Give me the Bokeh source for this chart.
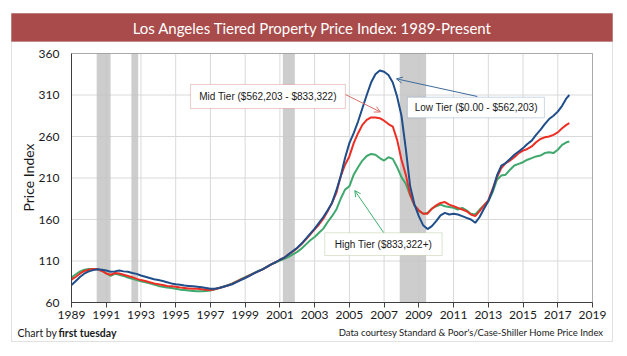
from math import pi
from bokeh.plotting import figure
from bokeh.models import Range1d, FixedTicker, BoxAnnotation, Label, Arrow, OpenHead, LinearAxis
from bokeh.embed import file_html
from bokeh.resources import INLINE

# quarterly dates (index readings), last reading Aug 2017
dates = [1989 + q / 4 for q in range(115)] + [2017 + 8 / 12]

low_tier = [
    81, 86, 91, 95,
    97.5, 99, 100, 99.5,
    98.5, 97, 97.5, 98.5,
    97.5, 97, 95.5, 94.5,
    92.5, 91, 89.5, 88,
    87, 86, 84.5, 83,
    82, 81.5, 80.5, 80,
    79.5, 79, 78.5, 77.5,
    76.5, 76.5, 77.5, 79,
    80.5, 82, 84.5, 87,
    89.5, 92, 95, 97.5,
    100, 103, 106, 108.5,
    111.5, 114, 118, 122,
    126, 131, 137, 143,
    149, 156, 163, 171,
    180, 195, 212, 234,
    252, 264, 278, 294,
    310, 325, 335, 339.5,
    338, 334, 325, 308,
    285, 245, 200, 178,
    164, 153, 148.5, 152,
    158, 165, 168, 166,
    167, 166, 164, 162,
    160, 156, 163, 173,
    182, 195, 213, 225,
    228, 233, 238, 242,
    246, 251, 255, 262,
    268, 275, 281, 285,
    290, 297, 306, 310,
]

mid_tier = [
    87.5, 91, 95, 98,
    99.5, 100.5, 100, 98,
    95, 93.5, 95.5, 95,
    93.5, 92, 90.5, 88.5,
    87, 86, 84.5, 83,
    82, 81, 80, 79.5,
    79, 78, 77.5, 77,
    76.5, 76.5, 76, 75.5,
    75, 76, 77.5, 79,
    80.5, 82.5, 85, 87.5,
    90, 92.5, 95, 97.5,
    100, 103, 106, 108.5,
    111.5, 114, 118, 121.5,
    125.5, 130.5, 136, 142,
    148, 154, 161, 170,
    180, 192, 212, 226,
    236, 252, 264, 274,
    280, 283, 283, 282,
    279, 275, 272, 256,
    232, 214, 190, 177,
    171, 167, 167, 173,
    177, 180, 181, 178,
    176, 174, 172, 170,
    166, 164, 170, 177,
    183, 197, 211, 222,
    228, 231, 235, 240,
    243, 245, 248, 253,
    257, 259, 260, 262,
    265, 270, 274, 276,
]

high_tier = [
    90, 94, 97.5, 99.5,
    100.5, 100.5, 100, 98.5,
    95, 92, 94.5, 93.5,
    92, 90, 88.5, 87,
    85.5, 84.5, 83, 81.5,
    80, 79, 78, 77.5,
    76.5, 75.5, 75, 74.5,
    74, 73.5, 73.5, 74,
    74.5, 76, 77.5, 79,
    81, 83, 85.5, 88,
    90.5, 93, 95.5, 98,
    100, 103, 106, 108,
    110.5, 112.5, 115, 118,
    121, 125, 130, 135,
    139, 144, 149, 157,
    164, 172, 185, 196,
    200, 214, 223, 231,
    236.5, 239, 238, 234,
    231, 235, 233, 223,
    211, 203, 189, 177,
    170, 167, 168, 173,
    176, 178, 176, 175,
    174, 172, 174, 171,
    167, 166, 172, 177,
    182, 193, 208, 213,
    214, 220, 225, 227,
    229, 232, 234, 236,
    237, 240, 241, 240,
    244, 250, 253, 254,
]

rec_start = [1990.45, 1992.45, 2001.17, 2007.9]
rec_end = [1991.25, 1992.84, 2001.86, 2009.42]

x_ticks = list(range(1989, 2020, 2))
y_ticks = [60, 110, 160, 210, 260, 310, 360]

X0, X1 = 1989, 2019
Y0, Y1 = 60, 360

TITLE = "Los Angeles Tiered Property Price Index: 1989-Present"
FONT = "Lato"

W, H = 627, 356
# plot area in canvas pixels
PL, PR, PT, PB = 71, 592, 53, 302
kx = (PR - PL) / (X1 - X0)
ky = (PB - PT) / (Y1 - Y0)
x_range = Range1d(X0 - PL / kx, X1 + (W - PR) / kx)
y_range = Range1d(Y0 - (H - PB) / ky, Y1 + PT / ky)

p = figure(width=W, height=H, x_range=x_range, y_range=y_range, title=None,
           output_backend="svg", toolbar_location=None, min_border=0,
           x_axis_location=None, y_axis_location=None)
p.background_fill_color = "white"
p.border_fill_color = "white"
p.outline_line_color = None
p.grid.visible = False

# gridlines from the tick arrays
p.segment(x0=x_ticks, x1=x_ticks, y0=Y0, y1=Y1, line_color="#D9D9D9", line_width=1)
p.segment(x0=X0, x1=X1, y0=y_ticks, y1=y_ticks, line_color="#D9D9D9", line_width=1)

# recession bands
p.quad(left=rec_start, right=rec_end, bottom=Y0, top=Y1,
       fill_color="#C4C4C4", fill_alpha=0.85, line_color=None)

p.line(dates, high_tier, line_color="#3FA86C", line_width=2)
p.line(dates, mid_tier, line_color="#EE2E24", line_width=2)
p.line(dates, low_tier, line_color="#1F4E8A", line_width=2)

# plot-area outline
p.add_layout(BoxAnnotation(left=X0, right=X1, bottom=Y0, top=Y1, fill_color=None,
                           line_color="#404040", line_width=1))

xaxis = LinearAxis(ticker=FixedTicker(ticks=x_ticks), fixed_location=Y0, bounds=(X0, X1))
yaxis = LinearAxis(ticker=FixedTicker(ticks=y_ticks), fixed_location=X0, bounds=(Y0, Y1))
for ax in (xaxis, yaxis):
    ax.axis_line_color = "#404040"
    ax.major_tick_line_color = "#404040"
    ax.minor_tick_line_color = None
    ax.major_label_text_font = FONT
    ax.major_label_text_font_size = "12px"
    ax.major_label_text_color = "#1a1a1a"
    ax.major_tick_in = 0
xaxis.major_tick_out = 5
xaxis.major_label_standoff = 3
yaxis.major_tick_out = 0
yaxis.major_label_standoff = 12
p.add_layout(xaxis, "below")
p.add_layout(yaxis, "left")

# outer frame and title band (screen pixels; frame == canvas)
def sy(canvas_y):
    return H - canvas_y

p.add_layout(BoxAnnotation(left=11, right=612, top=sy(13), bottom=sy(341),
                           left_units="screen", right_units="screen",
                           top_units="screen", bottom_units="screen",
                           fill_color=None, line_color="#9A9A9A", line_width=1))
p.add_layout(BoxAnnotation(left=11, right=612, top=sy(13), bottom=sy(41),
                           left_units="screen", right_units="screen",
                           top_units="screen", bottom_units="screen",
                           fill_color="#A84B4A", fill_alpha=1, line_color="#A84B4A"))

p.add_layout(Label(x=312, y=sy(27), x_units="screen", y_units="screen", text=TITLE,
                   text_color="white", text_font=FONT, text_font_size="15px",
                   text_align="center", text_baseline="middle"))
p.add_layout(Label(x=28, y=sy(177), x_units="screen", y_units="screen", text="Price Index",
                   angle=pi / 2, text_color="#1a1a1a", text_font=FONT, text_font_size="14px",
                   text_align="center", text_baseline="middle"))
p.add_layout(Label(x=17, y=sy(332), x_units="screen", y_units="screen", text="Chart by",
                   text_color="#1a1a1a", text_font=FONT, text_font_size="10.5px",
                   text_align="left", text_baseline="middle"))
p.add_layout(Label(x=58, y=sy(332), x_units="screen", y_units="screen", text="first tuesday",
                   text_color="#1a1a1a", text_font=FONT, text_font_size="10.5px",
                   text_font_style="bold", text_align="left", text_baseline="middle"))
p.add_layout(Label(x=603, y=sy(332), x_units="screen", y_units="screen",
                   text="Data courtesy Standard & Poor's/Case-Shiller Home Price Index",
                   text_color="#1a1a1a", text_font=FONT, text_font_size="9.5px",
                   text_align="right", text_baseline="middle"))

# callout boxes
def callout(l, r, t, b, color, text, tx, ty):
    p.add_layout(BoxAnnotation(left=l, right=r, top=t, bottom=b, fill_color="white",
                               fill_alpha=1, line_color=color, line_width=1))
    p.add_layout(Label(x=tx, y=ty, text=text, text_font="Liberation Sans",
                       text_font_size="10px", text_color="#1a1a1a",
                       text_align="center", text_baseline="middle"))

p.add_layout(Arrow(x_start=2004.77, y_start=310.6, x_end=2006.79, y_end=289.5,
                   line_color="#D9706A", line_width=1,
                   end=OpenHead(size=6, line_color="#D9706A", line_width=1)))
p.add_layout(Arrow(x_start=2012.37, y_start=308.2, x_end=2007.71, y_end=329.5,
                   line_color="#3C6A9A", line_width=1,
                   end=OpenHead(size=6, line_color="#3C6A9A", line_width=1)))
p.add_layout(Arrow(x_start=2006.98, y_start=144, x_end=2005.31, y_end=194.9,
                   line_color="#3FB06E", line_width=1,
                   end=OpenHead(size=6, line_color="#3FB06E", line_width=1)))

callout(1995.85, 2004.77, 322.7, 293.7, "#C0504D", "Mid Tier ($562,203 - $833,322)", 2000.31, 308.5)
callout(2008.34, 2016.23, 307.3, 282.5, "#4F7AA6", "Low Tier ($0.00 - $562,203)", 2012.3, 294.6)
callout(2003.58, 2010.34, 144.0, 116.6, "#8FA86A", "High Tier ($833,322+)", 2006.96, 130.3)

open("out.html", "w").write(file_html(p, INLINE))
